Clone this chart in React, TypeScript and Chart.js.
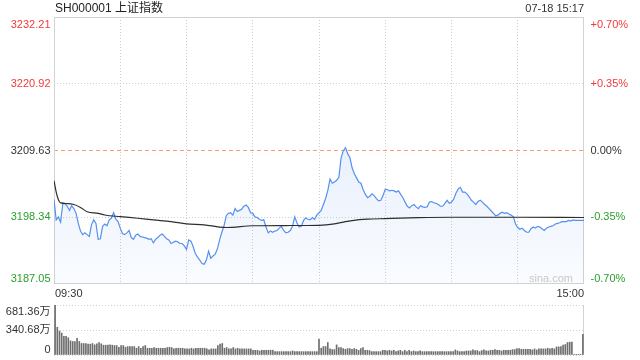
import React, { useEffect, useRef } from "react";
import { Chart, registerables } from "chart.js";

Chart.register(...registerables);

const TITLE = "SH000001 上证指数";
const STAMP = "07-18 15:17";
const WATERMARK = "sina.com";
const TIME_LABELS = ["09:30", "15:00"];
const TIME_GRID = [30, 60, 90, 120, 150, 180, 210];
const PREV_CLOSE = 3209.63;
const PRICE_TICKS = [3232.21, 3220.92, 3209.63, 3198.34, 3187.05];
const PCT_TICKS = ["+0.70%", "+0.35%", "0.00%", "-0.35%", "-0.70%"];
const VOL_TICKS = [681.36, 340.68, 0];
const VOL_TICK_LABELS = ["681.36万", "340.68万", "0"];

// one value per minute, 09:30 .. 11:30 and 13:01 .. 15:00 (241 points)
const PRICE = [
  3201.33, 3197.9, 3198.4, 3197.5, 3200.7, 3200.6, 3200.2, 3199.5, 3200.3, 3199.8,
  3199.0, 3197.3, 3196.0, 3195.4, 3195.7, 3195.4, 3195.1, 3197.1, 3197.9, 3197.3,
  3194.6, 3194.7, 3196.8, 3197.2, 3196.9, 3197.9, 3198.2, 3199.1, 3198.0, 3197.6,
  3196.5, 3195.6, 3195.4, 3195.7, 3196.1, 3194.9, 3194.6, 3195.3, 3195.5, 3195.1,
  3195.0, 3194.9, 3194.8, 3194.6, 3194.7, 3194.0, 3194.6, 3194.9, 3195.3, 3195.5,
  3195.1, 3194.7, 3194.5, 3193.9, 3194.1, 3194.3, 3194.2, 3193.9, 3193.9, 3193.5,
  3192.9, 3194.5, 3194.3, 3193.4, 3192.2, 3191.6, 3191.1, 3190.5, 3190.4, 3191.1,
  3192.6, 3191.4, 3191.8, 3192.1, 3193.0, 3194.5, 3195.8, 3196.9, 3198.6, 3199.0,
  3199.1, 3198.7, 3199.8, 3199.3, 3199.5, 3199.7, 3200.2, 3200.4, 3200.0, 3199.1,
  3199.0, 3198.4, 3198.3, 3198.0, 3197.8, 3197.9, 3196.7, 3195.7, 3196.0, 3195.8,
  3196.0, 3196.1, 3196.5, 3196.8, 3196.1, 3195.7, 3195.8, 3196.1, 3196.8, 3198.4,
  3197.4, 3196.7, 3196.8, 3197.8, 3198.2, 3198.0, 3197.9, 3198.3, 3198.0, 3198.7,
  3199.1, 3199.5, 3200.5, 3201.5, 3202.9, 3204.8, 3204.1, 3204.3, 3204.6, 3205.1,
  3208.4, 3209.6, 3210.1, 3209.1, 3208.4, 3206.7, 3205.7, 3205.0, 3204.3, 3204.1,
  3203.0, 3202.2, 3201.65, 3201.9, 3202.3, 3202.0, 3201.5, 3201.1, 3201.2, 3202.0,
  3203.1, 3203.0, 3202.8, 3202.9, 3202.8, 3202.6, 3202.8, 3202.2, 3201.65, 3200.9,
  3200.2, 3199.9, 3200.3, 3200.5, 3200.1, 3199.8, 3200.3, 3200.1, 3200.0, 3200.1,
  3200.9, 3201.0, 3200.8, 3200.7, 3200.5, 3200.2, 3200.2, 3200.7, 3201.2, 3200.7,
  3200.9, 3201.4, 3202.4, 3203.1, 3203.4, 3202.6, 3202.6, 3202.3, 3201.8, 3201.2,
  3200.9, 3200.5, 3201.0, 3201.2, 3200.9, 3200.5, 3200.2, 3199.8, 3199.4, 3199.0,
  3198.6, 3198.7, 3199.0, 3199.2, 3199.0, 3199.1, 3198.9, 3198.7, 3198.4, 3197.2,
  3196.6, 3196.3, 3196.5, 3196.1, 3195.8, 3195.8, 3196.4, 3196.7, 3196.5, 3196.8,
  3196.7, 3196.4, 3196.1, 3196.5, 3196.7, 3196.8, 3196.9, 3197.2, 3197.3, 3197.4,
  3197.6, 3197.6, 3197.6, 3197.8, 3197.7, 3197.9, 3197.8, 3197.8, 3197.8, 3197.8,
  3197.8,
];

// average price line, read at these minutes
const AVG_MIN = [0, 1, 2, 3, 6, 9, 12, 15, 20, 23, 30, 38, 45, 53, 60, 68, 75, 78, 90, 105, 120, 127, 132, 135, 142, 150, 165, 180, 210, 240];
const AVG_VAL = [
  3204.53, 3202.6, 3201.3, 3200.76, 3200.66, 3200.5, 3200.0, 3199.27, 3199.0, 3198.72,
  3198.44, 3198.17, 3197.89, 3197.61, 3197.23, 3197.06, 3196.68, 3196.61, 3196.9, 3196.94,
  3196.98, 3197.23, 3197.61, 3197.78, 3198.01, 3198.11, 3198.27, 3198.34, 3198.34, 3198.3,
];

// volume per minute, in 万
const VOLUME = [
  681.36, 377.5, 326.9, 299.3, 253.2, 253.2, 234.8, 193.4, 184.2, 184.2,
  225.6, 184.2, 156.5, 156.5, 156.5, 147.3, 147.3, 156.5, 138.1, 151.9,
  170.3, 151.9, 133.5, 133.5, 133.5, 138.1, 133.5, 128.9, 128.9, 105.9,
  128.9, 128.9, 105.9, 115.1, 115.1, 115.1, 115.1, 92.1, 115.1, 92.1,
  115.1, 128.9, 92.1, 92.1, 92.1, 101.3, 92.1, 92.1, 92.1, 92.1,
  92.1, 101.3, 105.9, 101.3, 82.9, 92.1, 92.1, 92.1, 92.1, 82.9,
  82.9, 82.9, 92.1, 82.9, 92.1, 92.1, 92.1, 92.1, 92.1, 82.9,
  69.1, 82.9, 82.9, 82.9, 128.9, 147.3, 156.5, 92.1, 101.3, 82.9,
  82.9, 101.3, 82.9, 92.1, 82.9, 82.9, 82.9, 82.9, 82.9, 82.9,
  64.5, 64.5, 64.5, 55.2, 64.5, 64.5, 64.5, 64.5, 64.5, 64.5,
  46.0, 46.0, 46.0, 46.0, 46.0, 46.0, 46.0, 46.0, 55.2, 46.0,
  46.0, 46.0, 46.0, 46.0, 46.0, 46.0, 46.0, 46.0, 46.0, 46.0,
  216.4, 92.1, 115.1, 115.1, 170.3, 82.9, 73.7, 73.7, 138.1, 101.3,
  101.3, 87.5, 78.3, 87.5, 87.5, 78.3, 87.5, 78.3, 64.5, 87.5,
  101.3, 64.5, 64.5, 59.9, 46.0, 46.0, 46.0, 46.0, 46.0, 64.5,
  64.5, 55.2, 64.5, 55.2, 64.5, 46.0, 55.2, 64.5, 46.0, 64.5,
  46.0, 64.5, 46.0, 55.2, 46.0, 46.0, 55.2, 46.0, 46.0, 46.0,
  46.0, 46.0, 46.0, 46.0, 46.0, 46.0, 46.0, 46.0, 46.0, 46.0,
  46.0, 46.0, 69.1, 55.2, 46.0, 46.0, 46.0, 55.2, 55.2, 55.2,
  69.1, 59.9, 59.9, 46.0, 59.9, 69.1, 55.2, 55.2, 64.5, 64.5,
  73.7, 64.5, 64.5, 55.2, 64.5, 64.5, 64.5, 64.5, 73.7, 73.7,
  87.5, 87.5, 78.3, 78.3, 78.3, 78.3, 78.3, 69.1, 82.9, 69.1,
  82.9, 82.9, 82.9, 82.9, 92.1, 82.9, 92.1, 82.9, 110.5, 110.5,
  115.1, 133.5, 142.7, 170.3, 175.0, 175.0, 3, 3, 3, 3,
  280.8,
];

const FONT = "'Liberation Sans', Arial, 'Noto Sans CJK SC', sans-serif";
const RED = "#f23a3a";
const GREEN = "#2a9f2a";
const DARK = "#333333";
const BLUE = "#5590ee";
const GRID = "#cfcfcf";
const FRAME = "#d3d3d3";

const near = (a: number, b: number) => Math.abs(a - b) < 1e-6;
const levelColor = (v: number) => (near(v, PREV_CLOSE) ? DARK : v > PREV_CLOSE ? RED : GREEN);

const framePlugin = {
  id: "frame",
  beforeDatasetsDraw(chart: any) {
    const { ctx, chartArea: a } = chart;
    ctx.save();
    ctx.strokeStyle = FRAME;
    ctx.lineWidth = 1;
    ctx.strokeRect(a.left + 0.5, a.top + 0.5, a.right - a.left - 1, a.bottom - a.top - 1);
    ctx.restore();
  },
};

const priceTextPlugin = {
  id: "priceText",
  afterDraw(chart: any) {
    const { ctx, chartArea: a, scales } = chart;
    const y = scales.y;
    const x = scales.x;
    ctx.save();
    ctx.font = `11px ${FONT}`;
    PRICE_TICKS.forEach((v, i) => {
      let py = y.getPixelForValue(v);
      let base: CanvasTextBaseline = "middle";
      if (i === 0) {
        py = a.top + 2;
        base = "top";
      } else if (i === PRICE_TICKS.length - 1) {
        py = a.bottom;
        base = "bottom";
      }
      ctx.fillStyle = levelColor(v);
      ctx.textBaseline = base;
      ctx.textAlign = "right";
      ctx.fillText(v.toFixed(2), a.left - 3.5, py);
      ctx.textAlign = "left";
      ctx.fillText(PCT_TICKS[i], a.right + 6.5, py);
    });
    // header
    ctx.fillStyle = "#222";
    ctx.textBaseline = "middle";
    ctx.font = `12px ${FONT}`;
    ctx.textAlign = "left";
    ctx.fillText(TITLE, a.left + 1, 9);
    ctx.font = `11px ${FONT}`;
    ctx.fillStyle = DARK;
    ctx.textAlign = "right";
    ctx.fillText(STAMP, a.right, 9);
    // time labels
    ctx.textAlign = "left";
    ctx.fillText(TIME_LABELS[0], x.getPixelForValue(0) + 1, a.bottom + 9.5);
    ctx.textAlign = "right";
    ctx.fillText(TIME_LABELS[1], x.getPixelForValue(240), a.bottom + 9.5);
    // watermark
    ctx.fillStyle = "#c9c9c9";
    ctx.font = `11px ${FONT}`;
    ctx.textAlign = "right";
    ctx.textBaseline = "middle";
    ctx.fillText(WATERMARK, a.right - 11, a.bottom - 5);
    ctx.restore();
  },
};

const volTextPlugin = {
  id: "volText",
  beforeDatasetsDraw(chart: any) {
    const { ctx, chartArea: a } = chart;
    ctx.save();
    ctx.strokeStyle = FRAME;
    ctx.lineWidth = 1;
    ctx.beginPath();
    ctx.moveTo(a.left + 0.5, a.top);
    ctx.lineTo(a.left + 0.5, a.bottom);
    ctx.moveTo(a.right - 0.5, a.top);
    ctx.lineTo(a.right - 0.5, a.bottom);
    ctx.stroke();
    ctx.restore();
  },
  afterDraw(chart: any) {
    const { ctx, chartArea: a, scales } = chart;
    const y = scales.y;
    ctx.save();
    ctx.font = `11px ${FONT}`;
    ctx.fillStyle = DARK;
    ctx.textAlign = "right";
    VOL_TICKS.forEach((v, i) => {
      let py = y.getPixelForValue(v);
      let base: CanvasTextBaseline = "middle";
      if (i === 0) {
        py = a.top + 1;
        base = "top";
      } else if (i === VOL_TICKS.length - 1) {
        py = a.bottom + 0.5;
        base = "bottom";
      }
      ctx.textBaseline = base;
      ctx.fillText(VOL_TICK_LABELS[i], a.left - 3.5, py);
    });
    ctx.restore();
  },
};

export default function App() {
  const priceRef = useRef<HTMLCanvasElement | null>(null);
  const volRef = useRef<HTMLCanvasElement | null>(null);

  useEffect(() => {
    const minutes = PRICE.map((_, i) => i);
    const priceChart = new Chart(priceRef.current as HTMLCanvasElement, {
      type: "line",
      data: {
        labels: minutes,
        datasets: [
          {
            data: PRICE,
            borderColor: BLUE,
            borderWidth: 1.2,
            pointRadius: 0,
            tension: 0,
            fill: "start",
            backgroundColor: (c: any) => {
              const area = c.chart.chartArea;
              if (!area) return "rgba(85,144,238,0.1)";
              const g = c.chart.ctx.createLinearGradient(0, area.top, 0, area.bottom);
              g.addColorStop(0, "rgba(85,144,238,0.22)");
              g.addColorStop(1, "rgba(85,144,238,0.03)");
              return g;
            },
            order: 2,
          },
          {
            data: AVG_MIN.map((m, i) => ({ x: m, y: AVG_VAL[i] })),
            borderColor: "#2e2e2e",
            borderWidth: 1.2,
            pointRadius: 0,
            fill: false,
            cubicInterpolationMode: "monotone",
            order: 1,
          },
        ],
      } as any,
      options: {
        responsive: false,
        animation: false,
        devicePixelRatio: 1,
        events: [],
        layout: { padding: { left: 54, right: 56, top: 17, bottom: 16 }, autoPadding: false },
        plugins: { legend: { display: false }, tooltip: { enabled: false }, title: { display: false } },
        scales: {
          x: {
            type: "linear",
            min: 0,
            max: 240,
            offset: false,
            afterBuildTicks: (s: any) => {
              s.ticks = TIME_GRID.map((v) => ({ value: v }));
            },
            ticks: { display: false },
            grid: { color: GRID, drawTicks: false, lineWidth: 1 },
            border: { display: false, dash: [1, 2] },
          },
          y: {
            type: "linear",
            min: PRICE_TICKS[PRICE_TICKS.length - 1],
            max: PRICE_TICKS[0],
            afterBuildTicks: (s: any) => {
              s.ticks = PRICE_TICKS.slice(1, -1).map((v) => ({ value: v }));
            },
            ticks: { display: false },
            grid: {
              color: (c: any) => (c.tick && near(c.tick.value, PREV_CLOSE) ? "#f4a06c" : GRID),
              drawTicks: false,
              lineWidth: 1,
            },
            border: {
              display: false,
              dash: (c: any) => (c.tick && near(c.tick.value, PREV_CLOSE) ? [4, 3] : [1, 2]),
            },
          },
        },
      } as any,
      plugins: [framePlugin, priceTextPlugin],
    });

    const volChart = new Chart(volRef.current as HTMLCanvasElement, {
      type: "bar",
      data: {
        labels: VOLUME.map((_, i) => i),
        datasets: [
          {
            data: VOLUME,
            backgroundColor: "#6e6e6e",
            borderWidth: 0,
            barThickness: 1,
          },
        ],
      } as any,
      options: {
        responsive: false,
        animation: false,
        devicePixelRatio: 1,
        events: [],
        layout: { padding: { left: 54, right: 56, top: 5, bottom: 5 }, autoPadding: false },
        plugins: { legend: { display: false }, tooltip: { enabled: false } },
        scales: {
          x: {
            type: "linear",
            min: -0.5,
            max: 240.5,
            offset: false,
            display: false,
            grid: { offset: false, display: false },
          },
          y: {
            type: "linear",
            min: 0,
            max: VOL_TICKS[0],
            afterBuildTicks: (s: any) => {
              s.ticks = VOL_TICKS.map((v) => ({ value: v }));
            },
            ticks: { display: false },
            grid: { color: GRID, drawTicks: false, lineWidth: 1 },
            border: { display: false, dash: [1, 2] },
          },
        },
      } as any,
      plugins: [volTextPlugin],
    });

    return () => {
      priceChart.destroy();
      volChart.destroy();
    };
  }, []);

  return (
    <div style={{ position: "fixed", left: 0, top: 0, width: 640, height: 360, background: "#fff" }}>
      <canvas ref={priceRef} width={640} height={300} style={{ position: "absolute", left: 0, top: 0, width: 640, height: 300 }} />
      <canvas ref={volRef} width={640} height={60} style={{ position: "absolute", left: 0, top: 300, width: 640, height: 60 }} />
    </div>
  );
}
